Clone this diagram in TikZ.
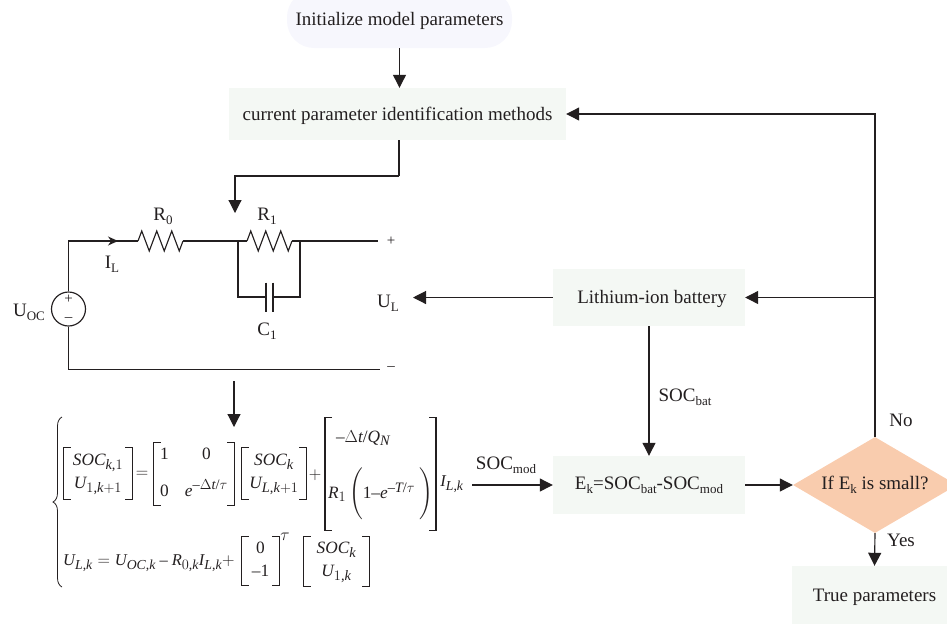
\documentclass[tikz,border=0pt]{standalone}
\usepackage{amsmath,amssymb}
\usepackage{fontspec}
\setmainfont{Liberation Serif}
\usepackage[italic]{mathastext}
\usepackage{xcolor}
\usetikzlibrary{arrows.meta,calc,positioning,shapes.geometric,decorations.pathmorphing,decorations.pathreplacing}
\definecolor{inkline}{HTML}{231F20}
\definecolor{boxgreen}{HTML}{F4F8F4}
\definecolor{boxviolet}{HTML}{F7F7FD}
\definecolor{boxorange}{HTML}{F9CCAE}
\newcommand{\dn}[1]{\raisebox{-4pt}{\fontsize{13}{13}\selectfont #1}}

\begin{document}
\begin{tikzpicture}[x=1pt,y=-1pt,
    font=\fontsize{19}{21}\selectfont,text=inkline,
    wire/.style={draw=inkline,line width=1.15pt},
    flow/.style={wire,-{Triangle[length=13pt,width=13pt]}},
    tinyflow/.style={wire,-{Stealth[length=10pt,width=9pt]}},
    resistor/.style={wire,decorate,decoration={zigzag,segment length=15pt,amplitude=10pt}},
    greenbox/.style={fill=boxgreen,inner sep=0pt,minimum height=#1,text=inkline,text depth=0pt},
    eqpart/.style={inner sep=0pt,font=\fontsize{16.5}{19}\selectfont},
    eqmatrix/.style args={#1 and #2}{inner sep=0pt,font=\fontsize{17.3}{20}\selectfont,minimum width=#1,minimum height=#2}]
  \useasboundingbox (0,0) rectangle (947,625);
  % flow chart boxes
  \node[fill=boxviolet,rounded corners=27pt,minimum width=225pt,minimum height=58pt,text depth=0pt] (init) at (399.5,19) {Initialize model parameters};
  \node[greenbox=52pt,minimum width=337pt] (method) at (397.5,114) {current parameter identification methods};
  \node[greenbox=57pt,minimum width=192pt,text depth=2pt] (battery) at (649,297.5) {\hspace{6pt}Lithium-ion battery};
  \node[greenbox=58pt,minimum width=192pt,text depth=4pt] (error) at (649,485) {E\dn{k}=SOC\dn{bat}-SOC\dn{mod}};
  \node[diamond,fill=boxorange,inner sep=0pt,aspect=1.7,minimum width=164pt,minimum height=96pt,text depth=4pt] (check) at (875,485) {If E\dn{k} is small?};
  \node[greenbox=58pt,minimum width=165pt] (result) at (874.5,595) {True parameters};

  % circuit
  \coordinate (topleft) at (68.5,241);
  \coordinate (botleft) at (68.5,369.5);
  \coordinate (rzeroa) at (138,241);
  \coordinate (rzerob) at (183,241);
  \coordinate (joina) at (238,241);
  \coordinate (ronea) at (247,241);
  \coordinate (roneb) at (292,241);
  \coordinate (joinb) at (300,241);
  \coordinate (plus) at (378,241);
  \coordinate (minus) at (380,369.5);
  \coordinate (capa) at (266,297);
  \coordinate (capb) at (273,297);
  \node[circle,draw=inkline,line width=1.15pt,minimum size=34pt,inner sep=0pt] (source) at (68.5,309) {};
  \node[font=\fontsize{15}{15}\selectfont] at (68.5,299) {+};
  \node[font=\fontsize{15}{15}\selectfont] at (68.5,320) {–};
  \draw[wire] (source.north) -- (topleft) -- (rzeroa);
  \draw[tinyflow] (topleft) -- (118,241);
  \draw[resistor] (rzeroa) -- (rzerob);
  \draw[wire] (rzerob) -- (ronea);
  \draw[resistor] (ronea) -- (roneb);
  \draw[wire] (roneb) -- (plus);
  \draw[wire] (joina) |- (capa);
  \draw[wire] (joinb) |- (capb);
  \draw[wire] ($(capa)+(0,-14.5)$) -- ($(capa)+(0,14.5)$);
  \draw[wire] ($(capb)+(0,-14.5)$) -- ($(capb)+(0,14.5)$);
  \draw[wire] (source.south) -- (botleft) -- (minus);

  \node at (163,216) {R\dn{0}};
  \node at (267,216) {R\dn{1}};
  \node at (267,331) {C\dn{1}};
  \node at (112,264) {I\dn{L}};
  \node at (29,312) {U\dn{OC}};
  \node[font=\fontsize{15}{15}\selectfont] at (391,241) {+};
  \node[font=\fontsize{15}{15}\selectfont] at (391,369) {–};
  \node (voltage) at (388,303) {U\dn{L}};

  % equations
  \node[eqmatrix=68pt and 51pt] (mata) at (98,473.5) {$\begin{matrix} SOC_{k,1}\\[3pt] U_{1,k+1} \end{matrix}$};
  \node[eqpart] (eqsign) at (142,474) {$=$};
  \node[eqmatrix=80pt and 63pt] (matb) at (194,474) {$\begin{array}{@{\,}c@{\hspace{16pt}}c@{\,}} \text{1} & \text{0}\\[14pt] \text{0} & e^{-\Delta t/\tau} \end{array}$};
  \node[eqmatrix=64pt and 51pt] (matc) at (274,473.5) {$\begin{matrix} SOC_{k}\\[3pt] U_{L,k+1} \end{matrix}$};
  \node[eqpart] (plusb) at (315,475) {$+$};
  \node[eqmatrix=109pt and 112pt] (matd) at (380.5,474) {$\begin{array}{@{\,}l@{\,}}
      \hspace{8pt}-\Delta t/Q_{N}\\[20pt]
      R_{1}\left(\rule[-20pt]{0pt}{44pt}\text{1}{-}e^{-T/\tau}\hspace{4pt}\right)
    \end{array}$};
  \node[eqpart] (curr) at (452,484) {$I_{L,k}$};
  \node[eqpart,anchor=west] (outeq) at (63,563) {$U_{L,k}=U_{OC,k}-R_{0,k}I_{L,k}+$};
  \node[eqmatrix=37pt and 48pt] (mate) at (260.5,561) {$\begin{matrix} \text{0}\\[3pt] -\text{1} \end{matrix}$};
  \node[eqpart] (trans) at (285,537) {$\tau$};
  \node[eqmatrix=65pt and 49pt] (matf) at (336.5,561.5) {$\begin{matrix} SOC_{k}\\[3pt] U_{1,k} \end{matrix}$};
  \foreach \m in {mata,matb,matc,matd,mate,matf} {
    \draw[wire] ($(\m.north west)+(7,0)$) -- (\m.north west) -- (\m.south west) -- ($(\m.south west)+(7,0)$);
    \draw[wire] ($(\m.north east)+(-7,0)$) -- (\m.north east) -- (\m.south east) -- ($(\m.south east)+(-7,0)$);
  }
  \coordinate (bracea) at (62,417);
  \coordinate (braceb) at (62,587);
  \draw[draw=inkline,line width=0.8pt,decorate,decoration={brace,amplitude=9pt}] (braceb) -- (bracea);

  % connectors
  \coordinate (methodbend) at (399,176);
  \coordinate (feedcorner) at (875,114);
  \coordinate (feedjoin) at (875,297.5);
  \coordinate (circuitin) at (235,213);
  \coordinate (eqtop) at (234,381);
  \coordinate (eqin) at (234,427);
  \coordinate (modstart) at (472,485);
  \draw[flow] (init.south) -- (init.south |- method.north);
  \draw[wire] (methodbend |- method.south) -- (methodbend);
  \draw[flow] (methodbend) -| (circuitin);
  \draw[flow] (check.north) -- (feedcorner) -- (method.east);
  \draw[flow] (feedjoin) -- (battery.east);
  \draw[flow] (battery.west) -- (413,297.5);
  \draw[flow] (battery.south) -- (error.north);
  \draw[flow] (eqtop) -- (eqin);
  \draw[flow] (modstart) -- (error.west);
  \draw[flow] (error.east) -- (check.west);
  \draw[flow] (check.south) -- (result.north);

  \node at (685,397) {SOC\dn{bat}};
  \node at (506,465) {SOC\dn{mod}};
  \node at (901,420) {No};
  \node at (901,540) {Yes};
\end{tikzpicture}
\end{document}
